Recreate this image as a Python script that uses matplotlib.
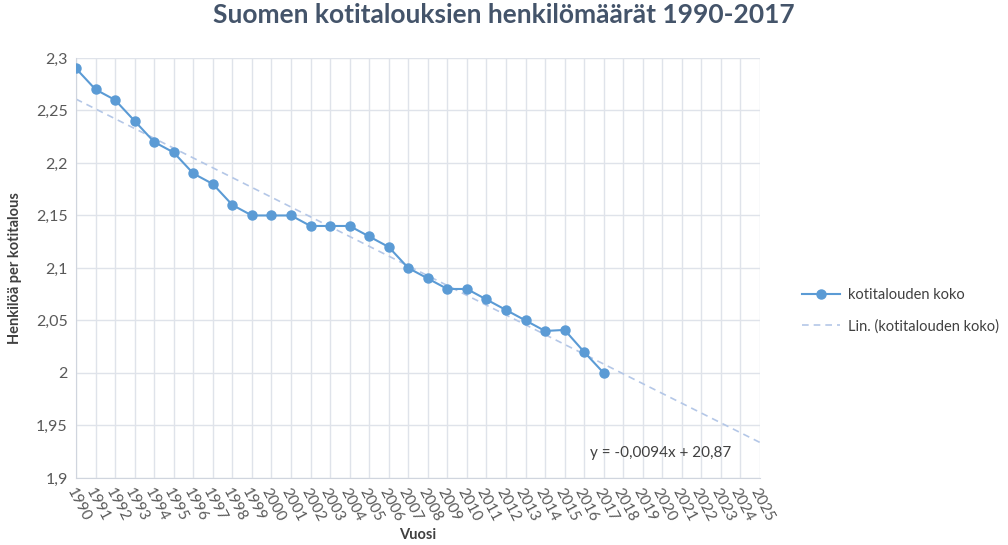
import numpy as np
import matplotlib.pyplot as plt

years = list(range(1990, 2018))
koko = [2.29, 2.27, 2.26, 2.24, 2.22, 2.21, 2.19, 2.18, 2.16, 2.15,
        2.15, 2.15, 2.14, 2.14, 2.14, 2.13, 2.12, 2.10, 2.09, 2.08,
        2.08, 2.07, 2.06, 2.05, 2.04, 2.041, 2.02, 2.00]
all_years = list(range(1990, 2026))
y_ticks = [1.9, 1.95, 2.0, 2.05, 2.1, 2.15, 2.2, 2.25, 2.3]

plt.rcParams['font.family'] = ['Lato', 'DejaVu Sans']

fig = plt.figure(figsize=(10.08, 5.45), dpi=100)
ax = fig.add_axes([0.0754, 0.123, 0.6786, 0.7706])

# linear trend over the whole axis range
p = np.polyfit(years, koko, 1)
trend = np.polyval(p, all_years)
ax.plot(all_years, trend, color='#b4c7e7', lw=1.2, ls=(0, (4, 3)),
        label='Lin. (kotitalouden koko)', zorder=2)
ax.plot(years, koko, color='#5b9bd5', lw=1.5, marker='o', markersize=6.5,
        label='kotitalouden koko', zorder=3)

ax.set_xlim(1990, 2025)
ax.set_ylim(1.9, 2.3)
ax.set_xticks(all_years)
ax.set_xticklabels([str(y) for y in all_years], rotation=-62, ha='left',
                   rotation_mode='anchor', fontsize=11, color='#595959')
ax.set_yticks(y_ticks)
ax.set_yticklabels([('%g' % v).replace('.', ',') for v in y_ticks],
                   fontsize=11.5, color='#595959')
ax.tick_params(length=0, pad=6)
ax.grid(True, color='#dfe3ea', lw=1)
ax.set_axisbelow(True)
for s in ['top', 'right']:
    ax.spines[s].set_visible(False)
for s in ['left', 'bottom']:
    ax.spines[s].set_color('#d0d5de')

ax.set_ylabel('Henkilöä per kotitalous', fontsize=10.5, fontweight='bold',
              color='#404040', labelpad=10)
ax.set_xlabel('Vuosi', fontsize=10.5, fontweight='bold', color='#404040',
              labelpad=3)
fig.suptitle('Suomen kotitalouksien henkilömäärät 1990-2017', x=0.5, y=0.995,
             fontsize=19, fontweight='bold', color='#44546a')

ax.text(2016.3, 1.92, 'y = -0,0094x + 20,87', fontsize=11, color='#404040')

h, l = ax.get_legend_handles_labels()
fig.legend(h[::-1], l[::-1], loc='center left', bbox_to_anchor=(0.783, 0.43),
           frameon=False, fontsize=10.5, labelcolor='#404040',
           handlelength=2.6, handletextpad=0.5, labelspacing=1.2)

fig.savefig('out.png', dpi=100)
